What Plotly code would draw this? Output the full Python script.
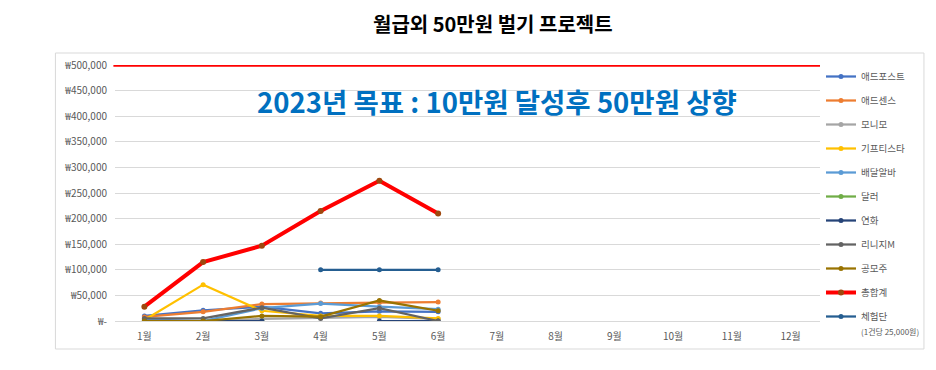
import plotly.graph_objects as go

months = ["1월", "2월", "3월", "4월", "5월", "6월", "7월", "8월", "9월", "10월", "11월", "12월"]

adpost   = [10000, 21000, 28000, 15000, 19000, 18000]
adsense  = [8000, 18000, 33000, 35000, 36000, 37000]
monimo   = [0, 0, 4000, 6000, 8000, 4000]
gifti    = [2000, 71000, 20000, 10000, 10000, 5000]
delivery = [3000, 0, 25000, 34000, 28000, 23000]
dollar   = [None, None, 0, None, None, None]
yeonhwa  = [0, 0, 0, None, 0, 0]
lineage  = [5000, 5000, 26000, 5000, 25000, 0]
ipo      = [0, 0, 10000, 8500, 40000, 20000]
total    = [28000, 115000, 147000, 215000, 274000, 210000]
review   = [None, None, None, 100000, 100000, 100000]

target = 500000
ytick_vals = [0, 50000, 100000, 150000, 200000, 250000, 300000, 350000, 400000, 450000, 500000]
ytick_text = ["₩-" if v == 0 else "₩{:,}".format(v) for v in ytick_vals]

series = [
    ("애드포스트", adpost, "#4472C4", "#4472C4", 2.25, 5),
    ("애드센스", adsense, "#ED7D31", "#ED7D31", 2.25, 5),
    ("모니모", monimo, "#A5A5A5", "#A5A5A5", 2.25, 5),
    ("기프티스타", gifti, "#FFC000", "#FFC000", 2.25, 5),
    ("배달알바", delivery, "#5B9BD5", "#5B9BD5", 2.25, 5),
    ("달러", dollar, "#70AD47", "#70AD47", 2.25, 5),
    ("연화", yeonhwa, "#264478", "#264478", 2.25, 5),
    ("리니지M", lineage, "#636363", "#636363", 2.25, 5),
    ("공모주", ipo, "#997300", "#997300", 2.25, 5),
    ("총합계", total, "#FF0000", "#9E480E", 4, 6),
    ("체험단", review, "#255E91", "#255E91", 2.25, 5),
]

fig = go.Figure()
for name, vals, lc, mc, lw, ms in series:
    fig.add_trace(go.Scatter(
        x=months[:len(vals)], y=vals, name=name, mode="lines+markers",
        line=dict(color=lc, width=lw),
        marker=dict(color=mc, size=ms, symbol="circle"),
        legendgroup=name,
    ))

font_ko = "Noto Sans CJK KR"
OFF = 8  # page body margin
W, H = 936 - OFF, 370 - OFF
L, R, T, B = 114.6 - OFF, 116, 65 - OFF, 49
pw, ph = W - L - R, H - T - B

def px(xs):
    return (xs - OFF - L) / pw

def py(ys):
    return (H - B - (ys - OFF)) / ph

fig.update_layout(
    width=W, height=H,
    margin=dict(l=L, r=R, t=T, b=B, pad=0),
    paper_bgcolor="white", plot_bgcolor="white",
    font=dict(family=font_ko, size=10, color="#595959"),
    showlegend=True,
    legend=dict(
        x=px(821), y=py(62), xanchor="left", yanchor="top",
        font=dict(family=font_ko, size=9.5, color="#595959"),
        tracegroupgap=5, valign="middle", itemwidth=30,
        bgcolor="rgba(0,0,0,0)", maxheight=320,
    ),
    xaxis=dict(
        type="category", categoryorder="array", categoryarray=months,
        range=[-0.5, 11.5], showgrid=False, zeroline=False, showline=False,
        ticks="", ticklabelstandoff=8, fixedrange=True,
        tickfont=dict(family=font_ko, size=10, color="#595959"),
    ),
    yaxis=dict(
        range=[0, target], tickvals=ytick_vals, ticktext=ytick_text,
        showgrid=True, gridcolor="#D9D9D9", gridwidth=1,
        zeroline=True, zerolinecolor="#D9D9D9", zerolinewidth=1,
        showline=False, ticks="", ticklabelstandoff=7,
        tickfont=dict(family=font_ko, size=10, color="#595959"),
    ),
    shapes=[
        dict(type="rect", xref="paper", yref="paper",
             x0=px(55), x1=px(924), y0=py(349), y1=py(53),
             line=dict(color="#D9D9D9", width=1), layer="below"),
        dict(type="line", xref="paper", yref="y",
             x0=px(113), x1=1.0, y0=target, y1=target,
             line=dict(color="#FF0000", width=3.5)),
    ],
    annotations=[
        dict(text="<b>월급외 50만원 벌기 프로젝트</b>", xref="paper", yref="paper",
             x=px(493), y=py(23), xanchor="center", yanchor="middle", showarrow=False,
             font=dict(family=font_ko, size=20, color="#000000")),
        dict(text="<b>2023년 목표 : 10만원 달성후 50만원 상향</b>", xref="paper", yref="paper",
             x=px(497), y=py(101), xanchor="center", yanchor="middle", showarrow=False,
             font=dict(family=font_ko, size=27.5, color="#0070C0")),
        dict(text="(1건당 25,000원)", xref="paper", yref="paper",
             x=px(859), y=py(331), xanchor="left", yanchor="middle", showarrow=False,
             font=dict(family=font_ko, size=8, color="#595959")),
    ],
)

fig.write_html("out.html")
